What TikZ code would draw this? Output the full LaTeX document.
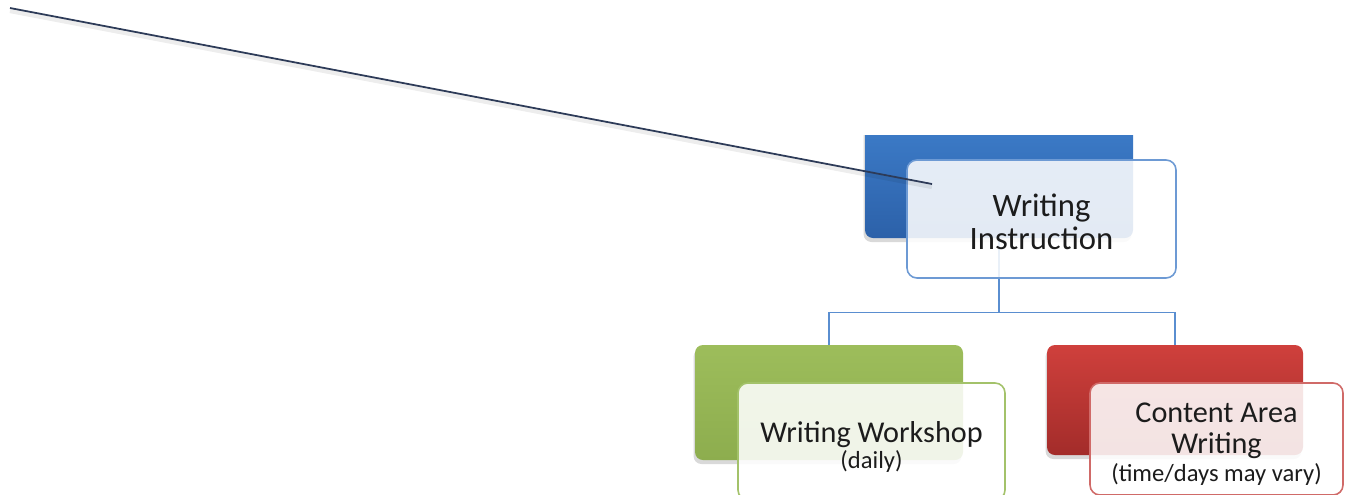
\documentclass[tikz,border=0pt]{standalone}
\usepackage{fontspec}
\setmainfont{Carlito}
\usetikzlibrary{positioning,shadows}

\definecolor{instrtop}{HTML}{3E7ECB}
\definecolor{instrbot}{HTML}{2C61A9}
\definecolor{instrline}{HTML}{6D9AD4}
\definecolor{wstop}{HTML}{9DBD5B}
\definecolor{wsbot}{HTML}{8DAD4E}
\definecolor{wsline}{HTML}{A3C26A}
\definecolor{catop}{HTML}{CF403C}
\definecolor{cabot}{HTML}{A32C2A}
\definecolor{caline}{HTML}{D06A68}
\definecolor{connblue}{HTML}{5A8ED0}
\definecolor{pointer}{HTML}{2D3B58}
\definecolor{boxink}{HTML}{1C1C1C}

\newcommand\subnote[1]{{\fontsize{14}{16}\selectfont #1}}

\begin{document}
\begin{tikzpicture}[x=0.2mm,y=-0.2mm,
  backbox/.style={rounded corners=1.6mm,inner sep=0pt,
    drop shadow={opacity=0.3,shadow xshift=-0.3mm,shadow yshift=-0.8mm}},
  frontbox/.style={rounded corners=2mm,line width=0.9pt,inner sep=0pt,
    fill=white,fill opacity=0.87},
  boxtext/.style={align=center,text=boxink,font=\fontsize{17.2}{17.8}\selectfont},
  conn/.style={draw=connblue,line width=0.85pt}
]
\useasboundingbox (0,0) rectangle (1345,494);
\clip (0,0) rectangle (1345,494);

% back cards
\begin{scope}
  \clip (0,135) rectangle (1345,494);
  \node[backbox,top color=instrtop,bottom color=instrbot,
    minimum width=5.36cm,minimum height=2.46cm] (instr back) at (999,176.5) {};
\end{scope}
\node[backbox,top color=wstop,bottom color=wsbot,
  minimum width=5.36cm,minimum height=2.30cm] (ws back) at (829,402.5) {};
\node[backbox,top color=catop,bottom color=cabot,
  minimum width=5.12cm,minimum height=2.20cm] (ca back) at (1175,400) {};

% tree lines
\draw[conn] (instr back.south) -- ++(0,74) -| (ws back.north);
\draw[conn] (instr back.south) -- ++(0,74) -| (ca back.north);

% front cards
\node[frontbox,draw=instrline,minimum width=5.38cm,minimum height=2.36cm]
  (instr front) at (1041.5,219) {};
\node[frontbox,draw=wsline,minimum width=5.34cm,minimum height=2.34cm]
  (ws front) at (871.5,441.5) {};
\node[frontbox,draw=caline,minimum width=5.06cm,minimum height=2.24cm]
  (ca front) at (1216.5,439) {};

\node[boxtext,font=\fontsize{18.6}{18.9}\selectfont] (instr text) at (1041.5,222) {Writing\\Instruction};
\node[boxtext] (ws text) at (871.5,447) {Writing Workshop\\[-3pt]\subnote{(daily)}};
\node[boxtext] (ca text) at (1216.5,444) {Content Area\\Writing\\[-2pt]\subnote{(time/days may vary)}};

% pointer
\coordinate (pointer tail) at (10,8);
\coordinate (pointer tip) at (932,184);
\draw[black,opacity=0.07,line width=3pt] ([yshift=-0.5mm]pointer tail) -- ([yshift=-0.5mm]pointer tip);
\draw[pointer,line width=1pt] (pointer tail) -- (pointer tip);
\end{tikzpicture}
\end{document}
